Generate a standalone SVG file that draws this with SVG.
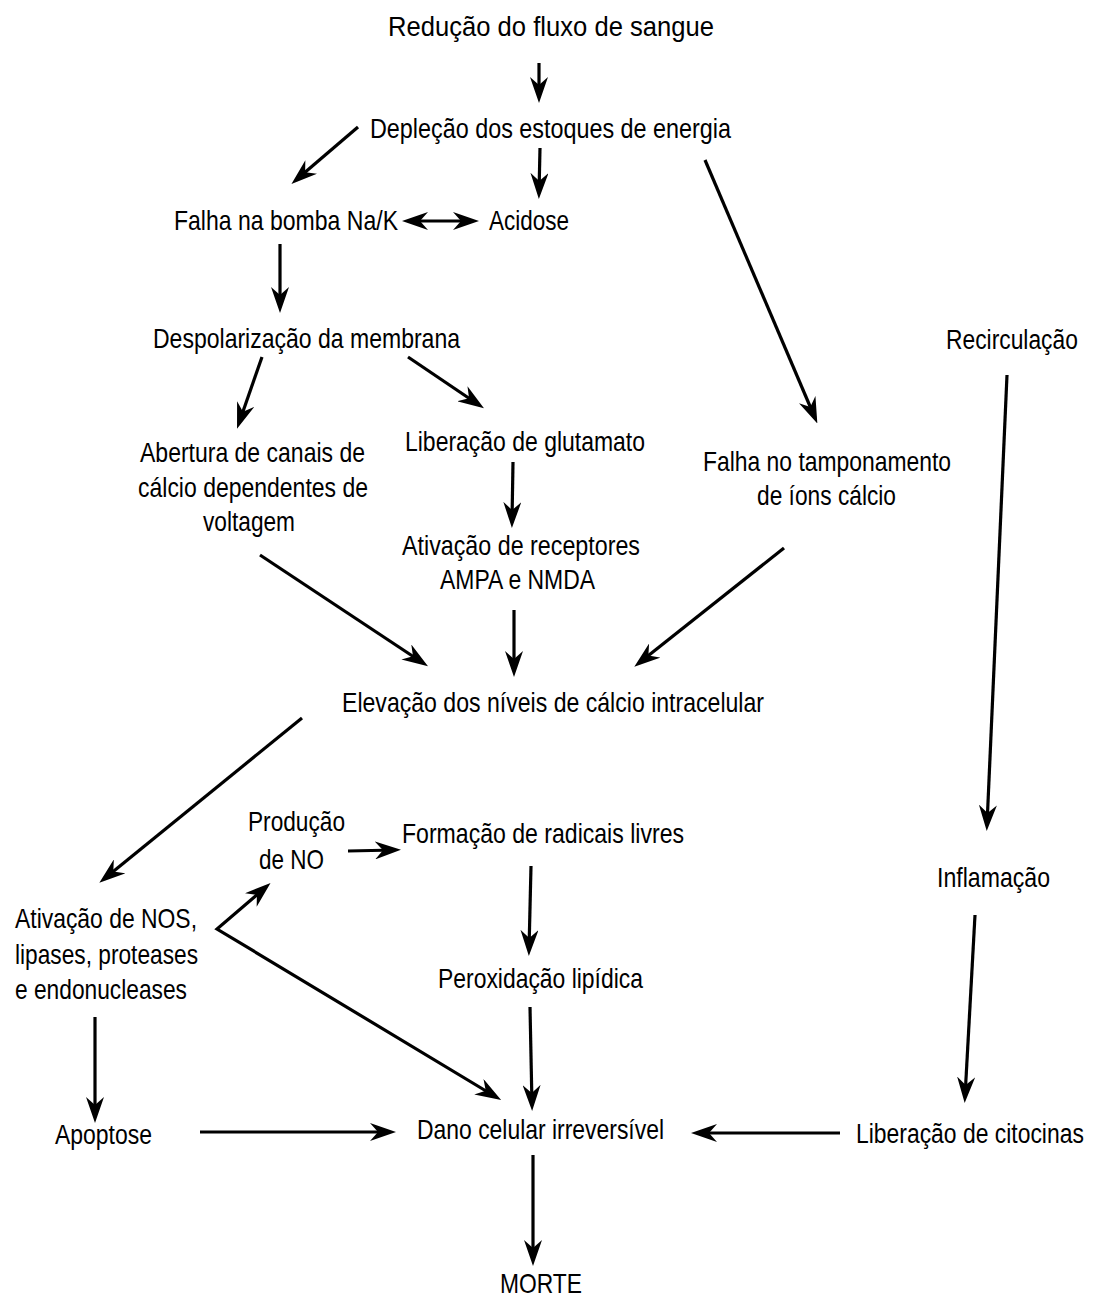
<svg xmlns="http://www.w3.org/2000/svg" width="1094" height="1297" viewBox="0 0 1094 1297">
<style>
text{font-family:"Liberation Sans",Arial,sans-serif;font-size:27.5px;fill:#000}
.c{stroke:#000;stroke-width:3.2;fill:none;marker-end:url(#ah)}
.d{marker-start:url(#ah)}
</style>
<defs>
<marker id="ah" markerUnits="userSpaceOnUse" markerWidth="26" markerHeight="18" viewBox="0 0 26 18" refX="20" refY="9" orient="auto-start-reverse">
<path d="M26,9 L0,0 L8,9 L0,18 Z" fill="#000"/>
</marker>
</defs>
<rect width="1094" height="1297" fill="#fff"/>
<g id="connectors">
<line class="c" x1="539" y1="63" x2="539" y2="97"/>
<line class="c" x1="358" y1="127" x2="296" y2="180"/>
<line class="c" x1="540" y1="148" x2="539" y2="193"/>
<line class="c d" x1="408" y1="221" x2="473" y2="221"/>
<line class="c" x1="705" y1="160" x2="815" y2="418"/>
<line class="c" x1="280" y1="244" x2="280" y2="307"/>
<line class="c" x1="262" y1="357" x2="239" y2="423"/>
<line class="c" x1="408" y1="357" x2="479" y2="405"/>
<line class="c" x1="513" y1="462" x2="512" y2="522"/>
<line class="c" x1="260" y1="555" x2="423" y2="663"/>
<line class="c" x1="514" y1="610" x2="514" y2="671"/>
<line class="c" x1="784" y1="548" x2="639" y2="663"/>
<line class="c" x1="1007" y1="375" x2="987" y2="825"/>
<line class="c" x1="302" y1="718" x2="104" y2="879"/>
<path class="c d" d="M266,887 L217,929 L496,1097"/>
<line class="c" x1="348" y1="851" x2="395" y2="850"/>
<line class="c" x1="531" y1="866" x2="529" y2="950"/>
<line class="c" x1="530" y1="1007" x2="532" y2="1105"/>
<line class="c" x1="975" y1="915" x2="965" y2="1097"/>
<line class="c" x1="95" y1="1017" x2="95" y2="1117"/>
<line class="c" x1="200" y1="1132" x2="390" y2="1132"/>
<line class="c" x1="840" y1="1133" x2="697" y2="1133"/>
<line class="c" x1="533" y1="1155" x2="533" y2="1260"/>
</g>
<g id="n-reducao"><text x="388" y="36" textLength="326" lengthAdjust="spacingAndGlyphs">Redução do fluxo de sangue</text></g>
<g id="n-deplecao"><text x="370" y="138" textLength="361" lengthAdjust="spacingAndGlyphs">Depleção dos estoques de energia</text></g>
<g id="n-falha-bomba"><text x="174" y="230" textLength="224" lengthAdjust="spacingAndGlyphs">Falha na bomba Na/K</text></g>
<g id="n-acidose"><text x="489" y="230" textLength="80" lengthAdjust="spacingAndGlyphs">Acidose</text></g>
<g id="n-despolarizacao"><text x="153" y="348" textLength="307" lengthAdjust="spacingAndGlyphs">Despolarização da membrana</text></g>
<g id="n-recirculacao"><text transform="translate(946,349) scale(0.83,1)" x="0" y="0">Recirculação</text></g>
<g id="n-abertura">
<text x="140" y="462" textLength="225" lengthAdjust="spacingAndGlyphs">Abertura de canais de</text>
<text x="138" y="497" textLength="230" lengthAdjust="spacingAndGlyphs">cálcio dependentes de</text>
<text x="203" y="531" textLength="92" lengthAdjust="spacingAndGlyphs">voltagem</text>
</g>
<g id="n-glutamato"><text x="405" y="451" textLength="240" lengthAdjust="spacingAndGlyphs">Liberação de glutamato</text></g>
<g id="n-tamponamento">
<text x="703" y="471" textLength="248" lengthAdjust="spacingAndGlyphs">Falha no tamponamento</text>
<text x="757" y="505" textLength="139" lengthAdjust="spacingAndGlyphs">de íons cálcio</text>
</g>
<g id="n-receptores">
<text x="402" y="555" textLength="238" lengthAdjust="spacingAndGlyphs">Ativação de receptores</text>
<text x="440" y="589" textLength="155" lengthAdjust="spacingAndGlyphs">AMPA e NMDA</text>
</g>
<g id="n-elevacao"><text x="342" y="712" textLength="422" lengthAdjust="spacingAndGlyphs">Elevação dos níveis de cálcio intracelular</text></g>
<g id="n-producao-no">
<text x="248" y="831" textLength="97" lengthAdjust="spacingAndGlyphs">Produção</text>
<text x="259" y="869" textLength="65" lengthAdjust="spacingAndGlyphs">de NO</text>
</g>
<g id="n-radicais"><text x="402" y="843" textLength="282" lengthAdjust="spacingAndGlyphs">Formação de radicais livres</text></g>
<g id="n-inflamacao"><text x="937" y="887" textLength="113" lengthAdjust="spacingAndGlyphs">Inflamação</text></g>
<g id="n-ativacao-nos">
<text x="15" y="928" textLength="182" lengthAdjust="spacingAndGlyphs">Ativação de NOS,</text>
<text x="15" y="964" textLength="183" lengthAdjust="spacingAndGlyphs">lipases, proteases</text>
<text x="15" y="999" textLength="172" lengthAdjust="spacingAndGlyphs">e endonucleases</text>
</g>
<g id="n-peroxidacao"><text x="438" y="988" textLength="205" lengthAdjust="spacingAndGlyphs">Peroxidação lipídica</text></g>
<g id="n-apoptose"><text x="55" y="1144" textLength="97" lengthAdjust="spacingAndGlyphs">Apoptose</text></g>
<g id="n-dano"><text x="417" y="1139" textLength="247" lengthAdjust="spacingAndGlyphs">Dano celular irreversível</text></g>
<g id="n-citocinas"><text transform="translate(856,1143) scale(0.833,1)" x="0" y="0">Liberação de citocinas</text></g>
<g id="n-morte"><text x="500" y="1293" textLength="82" lengthAdjust="spacingAndGlyphs">MORTE</text></g>
</svg>
